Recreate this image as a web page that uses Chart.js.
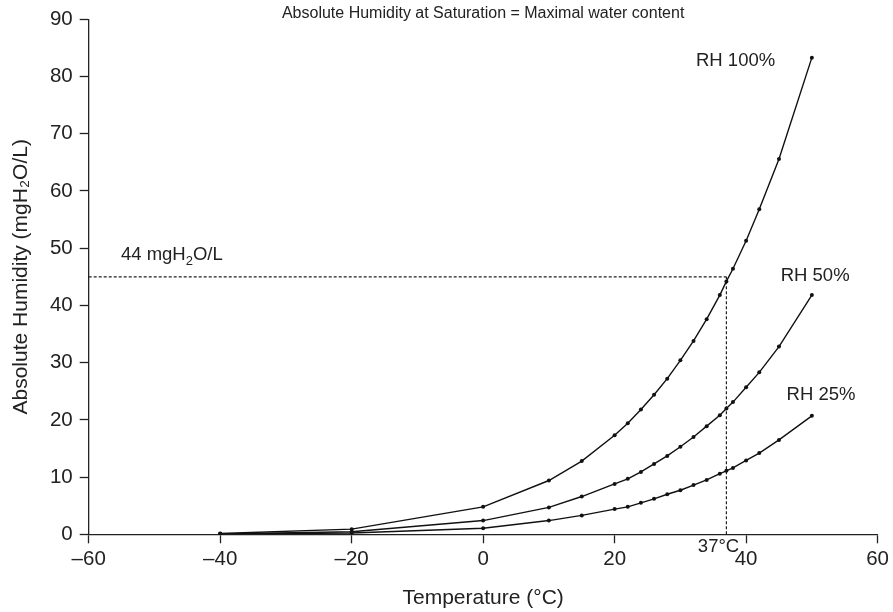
<!DOCTYPE html>
<html>
<head>
<meta charset="utf-8">
<script src="https://cdn.jsdelivr.net/npm/chart.js@4/dist/chart.umd.min.js"></script>
<style>
  html, body { margin: 0; padding: 0; background: #fff; }
  #wrap { width: 893px; height: 612px; }
</style>
</head>
<body>
<div id="wrap"><canvas id="myChart" width="893" height="612"></canvas></div>
<script>
// temperatures (°C) where the curves were sampled
const temps = [-40, -20, 0, 10, 15, 20, 22, 24, 26, 28, 30, 32, 34, 36, 37, 38, 40, 42, 45, 50];
// absolute humidity (mgH2O/L)
const rh100 = [0.15, 0.9, 4.8, 9.4, 12.8, 17.3, 19.4, 21.8, 24.4, 27.2, 30.4, 33.8, 37.6, 41.8, 44.2, 46.4, 51.3, 56.8, 65.6, 83.3];
const rh50 = [0.08, 0.45, 2.4, 4.7, 6.6, 8.8, 9.7, 10.9, 12.3, 13.7, 15.3, 17.0, 18.9, 20.8, 22.0, 23.1, 25.7, 28.3, 32.8, 41.8];
const rh25 = [0.04, 0.23, 1.05, 2.4, 3.3, 4.4, 4.8, 5.5, 6.2, 7.0, 7.7, 8.6, 9.5, 10.6, 11.1, 11.6, 12.9, 14.2, 16.5, 20.7];
const seriesNames = ['RH 100%', 'RH 50%', 'RH 25%'];

// body temperature guide line
const bodyTemp = 37;
const bodyHumidity = 45;
const xTicks = [-60, -40, -20, 0, 20, 40, 60];
const yTicks = [0, 10, 20, 30, 40, 50, 60, 70, 80, 90];

const ink = '#222';
const FONT = '"Liberation Sans", Arial, sans-serif';

function toPoints(ys) {
    return temps.map((t, i) => ({ x: t, y: ys[i] }));
}

function curve(label, ys) {
    return {
        label: label,
        data: toPoints(ys),
        borderColor: '#111',
        borderWidth: 1.4,
        pointRadius: 2,
        pointBackgroundColor: '#111',
        pointBorderWidth: 0,
        tension: 0,
        fill: false
    };
}

function guide(points) {
    return {
        data: points,
        borderColor: '#222',
        borderWidth: 1.2,
        borderDash: [3, 2],
        pointRadius: 0,
        tension: 0,
        fill: false
    };
}

// text annotations in data units
const notes = [
    { text: seriesNames[0], x: 38.4, y: 82.7 },
    { text: seriesNames[1], x: 50.5, y: 45.1 },
    { text: seriesNames[2], x: 51.4, y: 24.3 },
    { text: bodyTemp + '°C', x: 35.8, y: -2.2 }
];

const annotate = {
    id: 'annotate',
    afterDatasetsDraw(chart) {
        const c = chart.ctx;
        const xs = chart.scales.x, ys = chart.scales.y;
        c.save();
        c.fillStyle = ink;
        c.textBaseline = 'middle';
        c.textAlign = 'center';
        c.font = '18.5px ' + FONT;
        notes.forEach(n => c.fillText(n.text, xs.getPixelForValue(n.x), ys.getPixelForValue(n.y)));

        // "44 mgH2O/L" with real subscript
        let px = xs.getPixelForValue(-55.1);
        const py = ys.getPixelForValue(48.8);
        c.textAlign = 'left';
        c.fillText('44 mgH', px, py);
        px += c.measureText('44 mgH').width;
        c.font = '13px ' + FONT;
        c.fillText('2', px, py + 6);
        px += c.measureText('2').width;
        c.font = '18.5px ' + FONT;
        c.fillText('O/L', px, py);

        // small heading above the plot
        const a = chart.chartArea;
        c.textAlign = 'center';
        c.font = '16px ' + FONT;
        c.fillText('Absolute Humidity at Saturation = Maximal water content', (a.left + a.right) / 2, 14);
        c.restore();
    }
};

const ctx = document.getElementById('myChart').getContext('2d');
new Chart(ctx, {
    type: 'line',
    data: {
        datasets: [
            curve(seriesNames[0], rh100),
            curve(seriesNames[1], rh50),
            curve(seriesNames[2], rh25),
            guide([{ x: xTicks[0], y: bodyHumidity }, { x: bodyTemp, y: bodyHumidity }]),
            guide([{ x: bodyTemp, y: 0 }, { x: bodyTemp, y: bodyHumidity }])
        ]
    },
    options: {
        responsive: false,
        animation: false,
        layout: { padding: { top: 19, right: 13.7, left: 0, bottom: 0 } },
        plugins: {
            legend: { display: false },
            tooltip: { enabled: false }
        },
        scales: {
            x: {
                type: 'linear',
                min: xTicks[0],
                max: xTicks[xTicks.length - 1],
                afterBuildTicks: s => { s.ticks = xTicks.map(v => ({ value: v })); },
                afterFit: s => { s.height = 77.7; },
                border: { display: true, color: ink, width: 1.3 },
                grid: { display: true, drawOnChartArea: false, drawTicks: true, tickLength: 9, color: ink, tickWidth: 1.3 },
                ticks: {
                    color: ink,
                    padding: 4,
                    font: { size: 20.5, family: FONT },
                    callback: v => String(v).replace('-', '\u2013')
                },
                title: {
                    display: true,
                    text: 'Temperature (°C)',
                    color: ink,
                    font: { size: 21, family: FONT },
                    padding: { top: 0, bottom: 1.5 }
                }
            },
            y: {
                type: 'linear',
                min: yTicks[0],
                max: yTicks[yTicks.length - 1],
                afterBuildTicks: s => { s.ticks = yTicks.map(v => ({ value: v })); },
                afterFit: s => { s.width = 88.7; },
                border: { display: true, color: ink, width: 1.3 },
                grid: { display: true, drawOnChartArea: false, drawTicks: true, tickLength: 9, color: ink, tickWidth: 1.3 },
                ticks: {
                    color: ink,
                    padding: 7,
                    font: { size: 20.5, family: FONT }
                },
                title: {
                    display: true,
                    text: 'Absolute Humidity (mgH\u2082O/L)',
                    color: ink,
                    font: { size: 21, family: FONT },
                    padding: { top: 8.4, bottom: 0 }
                }
            }
        }
    },
    plugins: [annotate]
});
</script>
</body>
</html>
